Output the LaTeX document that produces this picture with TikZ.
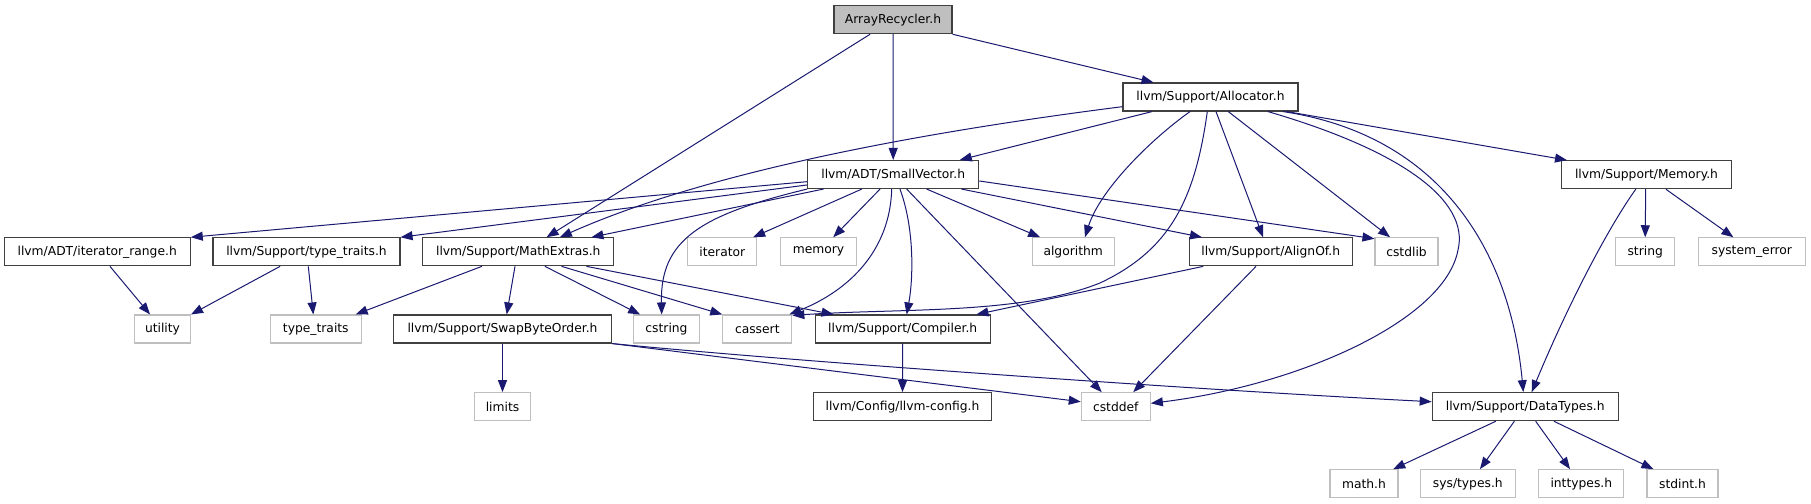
\documentclass[tikz,border=0pt]{standalone}
\usepackage{fontspec}
\setmainfont{DejaVu Sans}
\usetikzlibrary{arrows.meta}
\definecolor{edgeblue}{HTML}{191970}
\definecolor{boxdark}{HTML}{404040}
\definecolor{boxlight}{HTML}{BFBFBF}
\tikzset{
  hdr/.style={draw=boxdark, line width=1.1bp, fill=white, inner sep=0pt, minimum height=28bp,
    font=\fontsize{12.3bp}{14bp}\selectfont, text=black},
  sys/.style={hdr, draw=boxlight},
  root/.style={hdr, fill=boxlight},
  edge/.style={draw=edgeblue, line width=1bp, -{Triangle[length=12bp,width=9bp]}}
}
\begin{document}
\begin{tikzpicture}[x=1bp,y=-1bp]
\useasboundingbox (0,0) rectangle (1811,504);
% row 0
\node[root, minimum width=118bp] (AR) at (893,19.7) {ArrayRecycler.h};
\node[hdr, minimum width=175bp] (Alloc) at (1210.5,97) {llvm/Support/Allocator.h};
\node[hdr, minimum width=171bp] (SV) at (893.2,174.5) {llvm/ADT/SmallVector.h};
\node[hdr, minimum width=170bp] (Mem) at (1646.5,174.7) {llvm/Support/Memory.h};
% row 1
\node[hdr, minimum width=186bp] (IR) at (97.2,251.8) {llvm/ADT/iterator\_range.h};
\node[hdr, minimum width=187bp] (TT) at (306.5,251.8) {llvm/Support/type\_traits.h};
\node[hdr, minimum width=191bp] (ME) at (518.3,251.8) {llvm/Support/MathExtras.h};
\node[sys, minimum width=69bp] (iter) at (722.3,251.8) {iterator};
\node[sys, minimum width=76bp] (memory) at (818.5,251.8) {memory};
\node[sys, minimum width=82bp] (algo) at (1073.2,251.8) {algorithm};
\node[hdr, minimum width=163bp] (Align) at (1270.7,251.8) {llvm/Support/AlignOf.h};
\node[sys, minimum width=63bp] (cstdlib) at (1406.5,251.8) {cstdlib};
\node[sys, minimum width=59bp] (string) at (1645.2,251.8) {string};
\node[sys, minimum width=107bp] (syserr) at (1751.8,251.8) {system\_error};
% row 2
\node[sys, minimum width=56bp] (utility) at (162.5,329) {utility};
\node[sys, minimum width=91bp] (typetr) at (315.8,329) {type\_traits};
\node[hdr, minimum width=218bp] (SBO) at (502.5,329) {llvm/Support/SwapByteOrder.h};
\node[sys, minimum width=66bp] (cstring) at (666.5,329) {cstring};
\node[sys, minimum width=69bp] (cassert) at (757.3,329) {cassert};
\node[hdr, minimum width=175bp] (Comp) at (902.7,329) {llvm/Support/Compiler.h};
% row 3
\node[sys, minimum width=56bp] (limits) at (502.5,406.7) {limits};
\node[hdr, minimum width=178bp] (Config) at (902.5,406.7) {llvm/Config/llvm-config.h};
\node[sys, minimum width=69bp] (cstddef) at (1115.8,406.7) {cstddef};
\node[hdr, minimum width=186bp] (DT) at (1525.2,406.7) {llvm/Support/DataTypes.h};
% row 4
\node[sys, minimum width=68bp] (math) at (1364,483.7) {math.h};
\node[sys, minimum width=95bp] (systypes) at (1467.8,483.7) {sys/types.h};
\node[sys, minimum width=85bp] (inttypes) at (1581.3,483.7) {inttypes.h};
\node[sys, minimum width=71bp] (stdint) at (1682.5,483.7) {stdint.h};

% ArrayRecycler.h
\draw[edge] ([xshift=-23]AR.south) -- ([xshift=28.4]ME.north);
\draw[edge] (AR.south) -- (SV.north);
\draw[edge] (AR.south east) -- ([xshift=-57.2]Alloc.north);
% Allocator.h
\draw[edge] ([yshift=-9.7]Alloc.west) .. controls (900,135) and (700,175) .. ([xshift=41.7]ME.north);
\draw[edge] ([xshift=-58.5]Alloc.south) -- ([xshift=66.8]SV.north);
\draw[edge] ([xshift=-20.5]Alloc.south) .. controls (1150,140) and (1100,190) .. ([xshift=11.8]algo.north);
\draw[edge] ([xshift=-3.2]Alloc.south) .. controls (1195,200) and (1170,250) .. (1100,283)
   .. controls (1020,315) and (900,308) .. ([yshift=-1]cassert.north east);
\draw[edge] ([xshift=5.5]Alloc.south) -- ([xshift=-7.7]Align.north);
\draw[edge] ([xshift=17.8]Alloc.south) -- ([xshift=-16.5]cstdlib.north);
\draw[edge] ([xshift=57.5]Alloc.south) .. controls (1400,150) and (1470,200) .. (1458,250)
   .. controls (1445,320) and (1300,385) .. ([yshift=3.4]cstddef.east);
\draw[edge] ([xshift=72.5]Alloc.south) .. controls (1440,135) and (1510,250) .. ([xshift=-1.9]DT.north);
\draw[edge] ([xshift=76.5]Alloc.south) -- ([xshift=-79.8]Mem.north);
% SmallVector.h
\draw[edge] ([yshift=-7.2]SV.west) -- (IR.north east);
\draw[edge] ([yshift=-10.5]SV.west) -- (TT.north east);
\draw[edge] ([xshift=-70]SV.south) -- ([xshift=73.4]ME.north);
\draw[edge] (SV.south west) .. controls (700,215) and (660,240) .. ([xshift=-4.8]cstring.north);
\draw[edge] ([xshift=-31.5]SV.south) -- ([xshift=31]iter.north);
\draw[edge] ([xshift=-13.2]SV.south) -- ([xshift=14.8]memory.north);
\draw[edge] ([xshift=-1.5]SV.south) .. controls (890,250) and (850,290) .. ([xshift=-3]cassert.north east);
\draw[edge] ([xshift=6.8]SV.south) .. controls (915,230) and (913,280) .. ([xshift=4]Comp.north);
\draw[edge] ([xshift=13.5]SV.south) -- ([xshift=-14.1]cstddef.north);
\draw[edge] ([xshift=33.5]SV.south) -- ([xshift=-33.2]algo.north);
\draw[edge] ([xshift=68.5]SV.south) -- ([xshift=-69]Align.north);
\draw[edge] ([yshift=-6.5]SV.east) -- ([yshift=-1.5]cstdlib.north west);
% MathExtras.h
\draw[edge] ([xshift=-36.6]ME.south) -- ([xshift=40]typetr.north);
\draw[edge] ([xshift=-3.3]ME.south) -- ([xshift=4.2]SBO.north);
\draw[edge] ([xshift=26.7]ME.south) -- ([xshift=-26.5]cstring.north);
\draw[edge] ([xshift=43.4]ME.south) -- (cassert.north west);
\draw[edge] ([xshift=68.4]ME.south) -- ([xshift=-69.4]Comp.north);
% type_traits.h and iterator_range.h
\draw[edge] ([xshift=-26.5]TT.south) -- (utility.north east);
\draw[edge] ([xshift=1.8]TT.south) -- ([xshift=-2.5]typetr.north);
\draw[edge] ([xshift=12.8]IR.south) -- ([xshift=-12.5]utility.north);
% SwapByteOrder.h
\draw[edge] (SBO.south) -- (limits.north);
\draw[edge] (SBO.south east) -- ([yshift=5]cstddef.west);
\draw[edge] (SBO.south east) .. controls (800,362) and (1200,390) .. ([yshift=5]DT.west);
% Compiler.h, AlignOf.h
\draw[edge] (Comp.south) -- (Config.north);
\draw[edge] ([xshift=-67.7]Align.south) -- ([xshift=74]Comp.north);
\draw[edge] ([xshift=-14.7]Align.south) -- ([xshift=17.5]cstddef.north);
% Memory.h
\draw[edge] ([xshift=-10.8]Mem.south) .. controls (1610,225) and (1570,300) .. ([xshift=6.5]DT.north);
\draw[edge] ([xshift=-0.8]Mem.south) -- (string.north);
\draw[edge] ([xshift=19.5]Mem.south) -- ([xshift=-18.5]syserr.north);
% DataTypes.h
\draw[edge] ([xshift=-29.5]DT.south) -- ([xshift=29.3]math.north);
\draw[edge] ([xshift=-10.9]DT.south) -- ([xshift=12.2]systypes.north);
\draw[edge] ([xshift=10.5]DT.south) -- ([xshift=-11.3]inttypes.north);
\draw[edge] ([xshift=28.8]DT.south) -- ([xshift=-29.2]stdint.north);
\end{tikzpicture}
\end{document}
